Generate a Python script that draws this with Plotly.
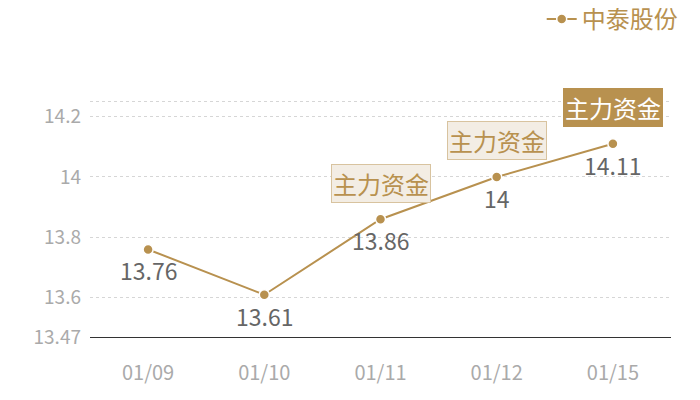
import plotly.graph_objects as go

# data
dates = ['01/09', '01/10', '01/11', '01/12', '01/15']
prices = [13.76, 13.61, 13.86, 14, 14.11]
price_labels = ['13.76', '13.61', '13.86', '14', '14.11']
flag_dates = ['01/11', '01/12', '01/15']
flag_text = '主力资金'
y_ticks = [13.47, 13.6, 13.8, 14, 14.2, 14.25]
y_tick_text = ['13.47', '13.6', '13.8', '14', '14.2', '']

gold = '#b8914f'
font = 'Noto Sans CJK SC, Noto Sans, sans-serif'

fig = go.Figure()

fig.add_trace(go.Scatter(
    x=dates, y=prices,
    mode='lines+markers',
    name='中泰股份',
    line=dict(color=gold, width=2),
    marker=dict(color=gold, size=10, line=dict(color='white', width=1.5)),
    cliponaxis=False,
))

# value labels under the points
for d, p, lab in zip(dates, prices, price_labels):
    fig.add_annotation(
        x=d, y=p, text=lab, showarrow=False, yshift=-21,
        font=dict(size=23, color='#666666', family=font),
    )

# "主力资金" flags above points, last one highlighted
for d in flag_dates:
    last = d == flag_dates[-1]
    fig.add_annotation(
        x=d, y=prices[dates.index(d)],
        text=flag_text, showarrow=False, yshift=36,
        font=dict(size=24, family=font, color='white' if last else gold),
        bgcolor=gold if last else '#f3ede4',
        bordercolor=gold if last else '#d8c39f',
        borderwidth=1, borderpad=1,
    )

# page has an 8px body margin, so the figure is 8px smaller and margins shifted
fig.update_layout(
    width=692, height=392,
    margin=dict(l=82, r=29, t=92, b=63),
    paper_bgcolor='white', plot_bgcolor='white',
    font=dict(family=font),
    showlegend=True,
    legend=dict(
        orientation='h', xref='container', yref='container',
        x=0.975, xanchor='right', y=0.971, yanchor='middle',
        font=dict(size=24, color=gold, family=font),
        itemwidth=30,
    ),
)

fig.update_xaxes(
    type='category', range=[-0.5, 4.5], automargin=False,
    showline=True, linecolor='#333333', linewidth=1,
    showgrid=False, ticks='',
    tickfont=dict(size=20, color='#aaaaaa', family=font),
    ticklabelstandoff=18,
)

fig.update_yaxes(
    range=[13.47, 14.255], automargin=False,
    tickvals=y_ticks, ticktext=y_tick_text,
    showgrid=True, gridcolor='#d6d6d6', griddash='dot', gridwidth=1,
    zeroline=False, showline=False, ticks='',
    tickfont=dict(size=19, color='#aaaaaa', family=font),
    ticklabelstandoff=8,
)

fig.write_html('out.html')
